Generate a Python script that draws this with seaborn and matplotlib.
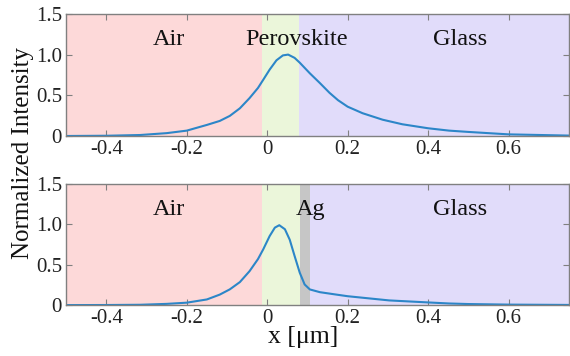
import matplotlib
matplotlib.use("Agg")
import matplotlib.pyplot as plt
import seaborn as sns
import pandas as pd

sns.set_theme(style="ticks")
plt.rcParams["font.family"] = ["Liberation Serif", "DejaVu Serif"]

# Field intensity profiles across the layer stack (x in micrometres)
top_x = [-0.5, -0.4, -0.316, -0.25, -0.2, -0.15, -0.118, -0.093, -0.068, -0.044,
         -0.023, -0.010, 0.006, 0.023, 0.039, 0.052, 0.068, 0.081, 0.106, 0.131,
         0.155, 0.176, 0.2, 0.237, 0.287, 0.336, 0.4, 0.452, 0.5, 0.6, 0.75]
top_y = [0.0, 0.003, 0.012, 0.035, 0.066, 0.136, 0.185, 0.247, 0.34, 0.465,
         0.59, 0.69, 0.815, 0.93, 0.99, 1.0, 0.96, 0.9, 0.77, 0.65,
         0.53, 0.44, 0.36, 0.28, 0.2, 0.144, 0.095, 0.066, 0.05, 0.02, 0.005]

bot_x = [-0.5, -0.4, -0.316, -0.25, -0.2, -0.15, -0.118, -0.093, -0.068, -0.044,
         -0.023, -0.010, 0.006, 0.019, 0.030, 0.044, 0.056, 0.068, 0.081, 0.093,
         0.106, 0.131, 0.172, 0.2, 0.303, 0.4, 0.452, 0.5, 0.6, 0.75]
bot_y = [0.0, 0.001, 0.004, 0.015, 0.03, 0.07, 0.13, 0.195, 0.285, 0.42,
         0.57, 0.69, 0.855, 0.96, 0.99, 0.94, 0.81, 0.61, 0.40, 0.256,
         0.194, 0.16, 0.13, 0.11, 0.058, 0.033, 0.02, 0.013, 0.006, 0.002]

# Layer boundaries (micrometres)
top_layers = [("Air", -0.5, -0.012, "#fdd9d9"),
              ("Perovskite", -0.012, 0.078, "#ebf6da"),
              ("Glass", 0.078, 0.75, "#e1dcfa")]
bot_layers = [("Air", -0.5, -0.012, "#fdd9d9"),
              ("Perovskite", -0.012, 0.081, "#ebf6da"),
              ("Ag", 0.081, 0.107, "#c6c6c6"),
              ("Glass", 0.107, 0.75, "#e1dcfa")]

top_labels = [("Air", -0.245), ("Perovskite", 0.073), ("Glass", 0.479)]
bot_labels = [("Air", -0.245), ("Ag", 0.108), ("Glass", 0.479)]

x_ticks = [-0.4, -0.2, 0, 0.2, 0.4, 0.6]
x_ticklabels = ["-0.4", "-0.2", "0", "0.2", "0.4", "0.6"]
y_ticks = [0, 0.5, 1.0, 1.5]
y_ticklabels = ["0", "0.5", "1.0", "1.5"]

line_color = "#2c86c8"
spine_color = "#808080"

fig = plt.figure(figsize=(5.7, 3.56), dpi=100)
ax_top = fig.add_axes([0.116, 0.618, 0.882, 0.343])
ax_bot = fig.add_axes([0.116, 0.143, 0.882, 0.340])


def draw_panel(ax, xs, ys, layers, labels):
    for _, x0, x1, col in layers:
        ax.axvspan(x0, x1, color=col, lw=0, zorder=0)
    df = pd.DataFrame({"x": xs, "I": ys})
    sns.lineplot(data=df, x="x", y="I", ax=ax, color=line_color, lw=1.5,
                 zorder=3, sort=False)
    for text, xc in labels:
        ax.text(xc, 1.185, text, ha="center", va="center", fontsize=17.5,
                color="#111111", zorder=4)
    ax.set_xlim(-0.5, 0.75)
    ax.set_ylim(0, 1.5)
    ax.set_xticks(x_ticks)
    ax.set_xticklabels(x_ticklabels)
    ax.set_yticks(y_ticks)
    ax.set_yticklabels(y_ticklabels)
    ax.tick_params(direction="in", top=True, right=True, length=4,
                   width=0.8, color=spine_color, labelsize=15,
                   labelcolor="#222222", pad=3)
    for s in ax.spines.values():
        s.set_color(spine_color)
        s.set_linewidth(1.0)
        s.set_zorder(5)
    ax.set_xlabel("")
    ax.set_ylabel("")


draw_panel(ax_top, top_x, top_y, top_layers, top_labels)
draw_panel(ax_bot, bot_x, bot_y, bot_layers, bot_labels)

fig.text(0.040, 0.569, "Normalized Intensity", rotation=90, ha="center",
         va="center", fontsize=18, color="#111111")
fig.text(0.532, 0.052, "x [μm]", ha="center", va="center", fontsize=18.5,
         color="#111111")

fig.savefig("out.png", dpi=100)
